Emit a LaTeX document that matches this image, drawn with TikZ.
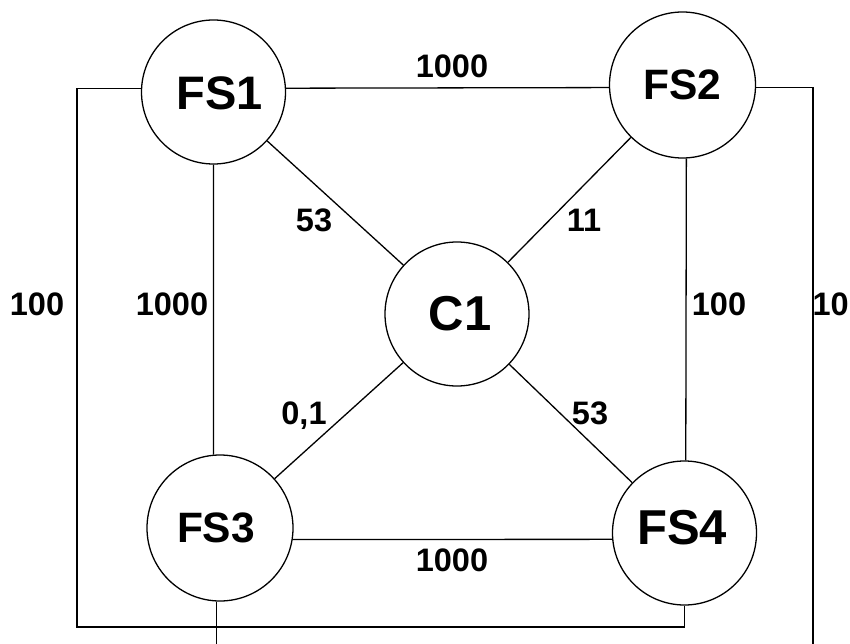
\documentclass[tikz,border=0pt]{standalone}
\usepackage{fontspec}
\setmainfont{Liberation Sans}
\begin{document}
\begin{tikzpicture}[x=1pt,y=-1pt,
  station/.style={draw=black, line width=1.3pt, circle, inner sep=0pt, fill=white},
  wire/.style={draw=black, line width=1.3pt},
  cost/.style={anchor=base, inner sep=0pt, font=\fontsize{32.5}{32.5}\selectfont\bfseries},
  tag/.style={anchor=base, inner sep=0pt}]
\useasboundingbox (0,0) rectangle (850,644);
\clip (0,0) rectangle (850,644);

% stations
\node[station, minimum size=144pt] (FS1) at (213.5,92) {};
\node[station, minimum size=146pt] (FS2) at (682.5,85) {};
\node[station, minimum size=146pt] (FS3) at (220,528) {};
\node[station, minimum size=144pt] (FS4) at (684.5,533) {};
\node[station, minimum size=144pt] (C1) at (457,314) {};

% station names
\node[tag, font=\fontsize{47}{47}\selectfont\bfseries] (FS1t) at (219.5,110) {FS1};
\node[tag, font=\fontsize{42.5}{42.5}\selectfont\bfseries] (FS2t) at (682,100) {FS2};
\node[tag, font=\fontsize{42.5}{42.5}\selectfont\bfseries] (FS3t) at (216,542) {FS3};
\node[tag, font=\fontsize{49}{49}\selectfont\bfseries] (FS4t) at (682,544) {FS4};
\node[tag, font=\fontsize{49}{49}\selectfont\bfseries] (C1t) at (460,330) {C1};

% free ends of the outer links
\coordinate (leftx) at (77,627);
\coordinate (rightend) at (813,644);
\coordinate (bottom) at (0,644);

% square of direct links
\draw[wire] (FS1.3) -- (FS2.182);
\draw[wire] (FS1.south) -- (FS3.95);
\draw[wire] (FS2.-87) -- (FS4.89);
\draw[wire] (FS3.-9) -- (FS4.185);

% links through C1
\draw[wire] (FS1) -- (C1);
\draw[wire] (FS2) -- (C1);
\draw[wire] (FS3) -- (C1);
\draw[wire] (C1) -- (FS4);

% outer links
\draw[wire] (FS1.177) -| (leftx) -| (FS4.south);
\draw[wire] (FS2.-2) -| (rightend);
\draw[wire] (FS3.267) -- (FS3.267 |- bottom);

% link costs
\node[cost] (c12) at (452,78) {1000};
\node[cost] (c14out) at (37,315) {100};
\node[cost] (c13) at (172,315) {1000};
\node[cost] (c24) at (719,315) {100};
\node[cost, anchor=base east] (c2out) at (849,315) {10};
\node[cost] (c1c) at (314,232) {53};
\node[cost] (c2c) at (584,232) {11};
\node[cost] (c3c) at (304,424) {0,1};
\node[cost] (c4c) at (590,424) {53};
\node[cost] (c34) at (452,571) {1000};
\end{tikzpicture}
\end{document}
